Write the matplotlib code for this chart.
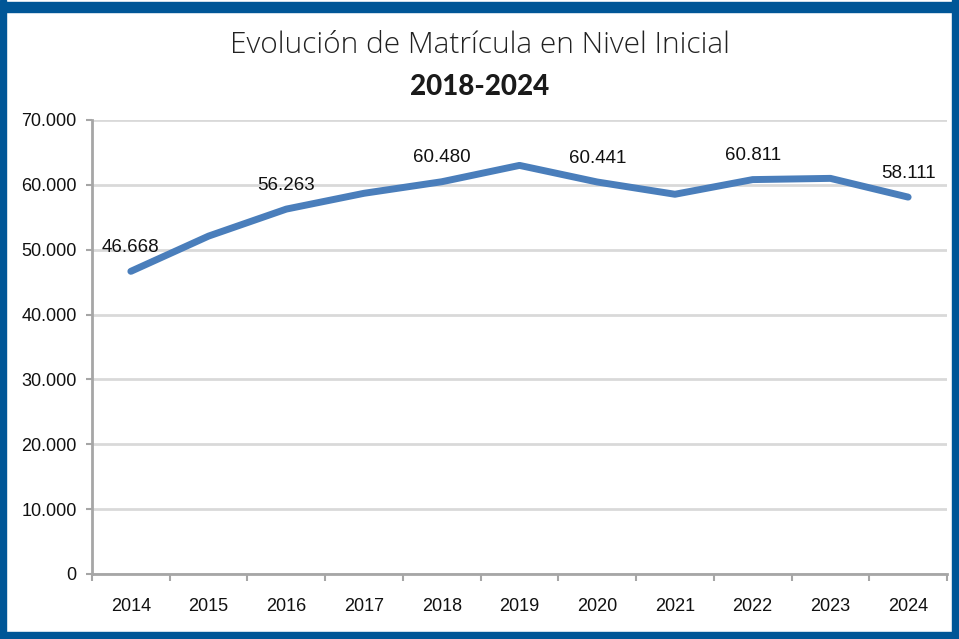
import matplotlib.pyplot as plt
from matplotlib.patches import Rectangle
from matplotlib.ticker import FuncFormatter, FixedLocator

years = ['2014', '2015', '2016', '2017', '2018', '2019', '2020', '2021', '2022', '2023', '2024']
matricula = [46668, 52100, 56263, 58700, 60480, 63000, 60441, 58550, 60811, 61000, 58111]
labelled = [True, False, True, False, True, False, True, False, True, False, True]

line_color = '#4a7ebb'
frame_color = '#005697'

fig = plt.figure(figsize=(9.59, 6.39), dpi=100, facecolor='white')
ax = fig.add_axes([92/959, 1 - 574/639, (947 - 92)/959, (574 - 120)/639])

x = list(range(len(years)))
ax.plot(x, matricula, color=line_color, linewidth=5, solid_capstyle='round',
        solid_joinstyle='round', zorder=3)

for xi, v, show in zip(x, matricula, labelled):
    if show:
        ax.annotate(f'{v:,}'.replace(',', '.'), xy=(xi, v), xytext=(0, 11),
                    textcoords='offset points', ha='center', va='bottom',
                    fontsize=13.5, family='Liberation Sans', color='#111111')

ax.set_xlim(-0.5, len(years) - 0.5)
ax.set_ylim(0, 70000)
ax.set_yticks(range(0, 70001, 10000))
ax.yaxis.set_major_formatter(FuncFormatter(lambda v, p: f'{int(v):,}'.replace(',', '.')))
ax.set_xticks(x)
ax.set_xticklabels(years)
ax.xaxis.set_minor_locator(FixedLocator([i - 0.5 for i in range(len(years) + 1)]))
ax.tick_params(axis='x', which='major', length=0, pad=17, labelsize=13)
ax.tick_params(axis='x', which='minor', length=5, width=1.5, color='#a6a6a6')
ax.tick_params(axis='y', length=4, width=1.5, color='#a6a6a6', labelsize=13, pad=7)
for lbl in ax.get_xticklabels() + ax.get_yticklabels():
    lbl.set_family('Liberation Sans')
    lbl.set_color('#111111')

ax.grid(axis='y', color='#d9d9d9', linewidth=2, zorder=0)
ax.set_axisbelow(True)
for s in ['top', 'right']:
    ax.spines[s].set_visible(False)
ax.spines['left'].set_color('#a6a6a6')
ax.spines['left'].set_linewidth(2)
ax.spines['bottom'].set_color('#a6a6a6')
ax.spines['bottom'].set_linewidth(2)

fig.text(0.5, 1 - 45/639, 'Evolución de Matrícula en Nivel Inicial', ha='center', va='center',
         fontsize=21.5, family='Open Sans', weight='light', color='#222222')
fig.text(0.5, 1 - 87/639, '2018-2024', ha='center', va='center',
         fontsize=20, family='Lato', weight='black', color='#1a1a1a')

# blue frame around the figure
W, H = 959, 639
for (x0, y0, w, h) in [(0, H - 12, W, 10), (0, 0, 6, H), (W - 7, 0, 7, H), (0, 0, W, 7)]:
    fig.patches.append(Rectangle((x0 / W, y0 / H), w / W, h / H, transform=fig.transFigure,
                                 color=frame_color, zorder=10))

plt.savefig('out.png', dpi=100, facecolor='white')
